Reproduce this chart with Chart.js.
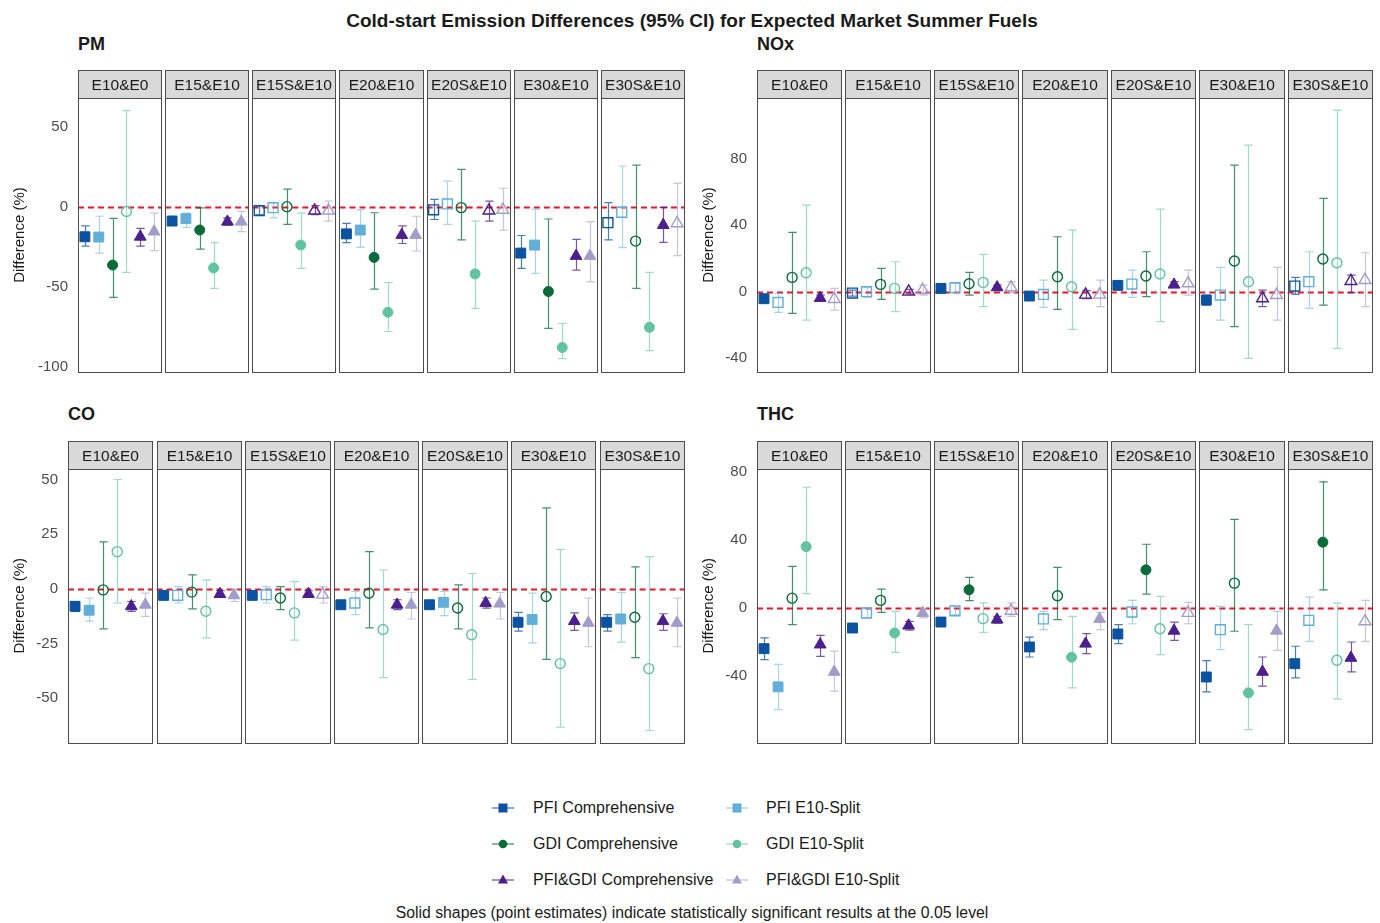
<!DOCTYPE html>
<html>
<head>
<meta charset="utf-8">
<script src="https://cdn.jsdelivr.net/npm/chart.js@4.4.1/dist/chart.umd.min.js"></script>
<style>
html,body{margin:0;padding:0;background:#fff}
body{width:1380px;height:923px;position:relative;overflow:hidden;font-family:"Liberation Sans",Arial,Helvetica,sans-serif;color:#1a1a1a}
canvas.panel{position:absolute}
.main-title{position:absolute;left:0;top:10px;width:1384px;text-align:center;font-weight:bold;font-size:19px;line-height:22px;white-space:nowrap}
.ptitle{position:absolute;font-weight:bold;font-size:18px;line-height:20px}
.legicon{position:absolute;width:24px;height:20px}
.legtext{position:absolute;font-size:16px;line-height:20px;white-space:nowrap}
.note{position:absolute;left:0;width:1384px;text-align:center;font-size:15.8px;top:903px;line-height:20px;white-space:nowrap}
</style>
</head>
<body>
<div class="main-title">Cold-start Emission Differences (95% CI) for Expected Market Summer Fuels</div>
<div class="ptitle" style="left:78px;top:34px">PM</div>
<div class="ptitle" style="left:757px;top:34px">NOx</div>
<div class="ptitle" style="left:68px;top:404px">CO</div>
<div class="ptitle" style="left:757px;top:404px">THC</div>
<canvas id="pm" class="panel" width="690" height="320" style="left:0;top:60px"></canvas>
<canvas id="nox" class="panel" width="690" height="320" style="left:690px;top:60px"></canvas>
<canvas id="co" class="panel" width="690" height="320" style="left:0;top:430px"></canvas>
<canvas id="thc" class="panel" width="690" height="320" style="left:690px;top:430px"></canvas>
<div id="legend"></div>
<div class="note">Solid shapes (point estimates) indicate statistically significant results at the 0.05 level</div>
<script>
// ---------------- DATA ----------------
const facets = ["E10&E0","E15&E10","E15S&E10","E20&E10","E20S&E10","E30&E10","E30S&E10"];
const seriesNames = ["PFI Comprehensive","PFI E10-Split","GDI Comprehensive","GDI E10-Split","PFI&GDI Comprehensive","PFI&GDI E10-Split"];
const yLabel = "Difference (%)";

// rows = facets, columns = series (order of seriesNames)
const pmEst = [
 [-18.8,-19,-36.5,-3,-18.8,-15.6],
 [-9,-7.5,-14.6,-38.3,-9.4,-9.4],
 [-2.5,-0.6,0,-24,-2.5,-2.5],
 [-17,-14.6,-31.7,-66,-17.7,-17.7],
 [-2,1.7,-0.6,-42,-2.5,-2],
 [-29,-24,-53,-88,-30.8,-30.8],
 [-10,-3.5,-21.5,-75.4,-11.5,-10.4]
];
const pmLo = [
 [-24.6,-29,-56.7,-41,-24.6,-27.5],
 [-11.5,-13,-26.5,-51,-11.5,-15.6],
 [-5,-7,-11,-38.5,-5,-9],
 [-22.5,-25.4,-51.5,-78,-23,-27.7],
 [-8,-11,-20.8,-63.5,-9,-14.6],
 [-38.5,-41.7,-76,-95,-39.6,-47],
 [-20.8,-25.6,-51,-90,-22.3,-30.6]
];
const pmHi = [
 [-12,-6,-7.3,60,-13.5,-4],
 [-6,-4,-0.8,-22.5,-7,-3],
 [0.5,2.5,11,-4,0.6,3.5],
 [-10.4,-2,-3.8,-47.5,-12,-6],
 [4.6,16,23.3,-9,3.5,11.5],
 [-18,-1.7,-7.7,-73,-20.4,-9.4],
 [2.5,25.4,26,-41,-0.5,14.6]
];
const pmSig = [
 [1,1,1,0,1,1],
 [1,1,1,1,1,1],
 [0,0,0,1,0,0],
 [1,1,1,1,1,1],
 [0,0,0,1,0,0],
 [1,1,1,1,1,1],
 [0,0,0,1,1,0]
];
const pmTicks = [-100,-50,0,50];

const noxEst = [
 [-4.2,-6.4,8.6,11.4,-3.8,-4.4],
 [-0.8,0,4.4,2,0,1],
 [2,2.4,4.8,5.6,2.6,2.6],
 [-2.6,-1.6,9,3,-1.8,-1.8],
 [3.8,4.6,9.4,10.6,4.2,5],
 [-5,-2,18.4,6,-4,-2],
 [3.4,6,19.6,17.4,6.4,7]
];
const noxLo = [
 [-5.4,-12.4,-13,-17,-5.4,-11],
 [-2.6,-3.4,-4.6,-12,-1.4,-2],
 [1,-0.6,-2,-9,1,-0.6],
 [-4.2,-9.4,-10.6,-22.6,-4.2,-9],
 [2.2,-3.4,-3,-18,2.6,-2],
 [-8,-17,-21,-40,-9,-17],
 [-1.6,-10,-8,-34,-0.5,-9]
];
const noxHi = [
 [-3,-1,35.6,52,-2,2],
 [1,2.6,14,18,1.4,4],
 [3,5,11.6,22.4,4,6],
 [-1,7,33,37,0.6,7],
 [5.4,13,24,49.6,6,13],
 [-2,14.6,76,88,1,14.6],
 [8.6,24,56,109,10,23.4]
];
const noxSig = [
 [1,0,0,0,1,0],
 [0,0,0,0,0,0],
 [1,0,0,0,1,0],
 [1,0,0,0,0,0],
 [1,0,0,0,1,0],
 [1,0,0,0,0,0],
 [0,0,0,0,0,0]
];
const noxTicks = [-40,0,40,80];

const coEst = [
 [-8,-9.8,-0.5,17,-8,-7.3],
 [-3,-3,-1.5,-10.3,-2.4,-3],
 [-3,-2.7,-4.2,-11,-2.4,-2.7],
 [-7.3,-6.5,-2,-18.6,-7.3,-7.3],
 [-7.3,-6.2,-8.8,-21,-6.5,-6.8],
 [-15.3,-14,-3.5,-34.2,-14.8,-15.6],
 [-15.3,-13.8,-13,-36.5,-14.8,-15.6]
];
const coLo = [
 [-10.3,-14.8,-18.3,-6.5,-10.3,-12.6],
 [-4.2,-6.5,-9.2,-22.4,-3.8,-5.8],
 [-4.2,-6.5,-9.5,-23.5,-3.8,-6.5],
 [-9,-11.8,-17.9,-40.6,-9.5,-13.8],
 [-9,-12.3,-18.3,-41.4,-8.8,-13.8],
 [-19.4,-24.7,-32.3,-63.3,-19,-26.5],
 [-19.4,-24.4,-31.5,-64.8,-19,-26.5]
];
const coHi = [
 [-5.8,-4.2,21.5,50,-5.8,-2],
 [-2,1,6.4,4,-0.8,-0.2],
 [-2,1,1,3.3,-0.8,1],
 [-5.5,-1.2,17,8.6,-5,-1.7],
 [-5.5,-1.2,1.8,7,-4.2,-1.7],
 [-10.8,-2,37,18,-11,-4.2],
 [-11.8,-1.7,10,14.7,-11.4,-4.2]
];
const coSig = [
 [1,1,0,0,1,1],
 [1,0,0,0,1,1],
 [1,0,0,0,1,0],
 [1,0,0,0,1,1],
 [1,1,0,0,1,1],
 [1,1,0,0,1,1],
 [1,1,0,0,1,1]
];
const coTicks = [-50,-25,0,25,50];

const thcEst = [
 [-23.8,-46.2,5.8,36,-21.4,-37.4],
 [-11.7,-2.9,4.5,-14.6,-10.3,-2.9],
 [-8.2,-1.6,10.7,-6.2,-6.8,-1.6],
 [-22.8,-6.4,7.2,-28.8,-20.9,-6.4],
 [-15.2,-2.3,22.4,-12.1,-13.3,-2.9],
 [-40.4,-12.7,14.6,-49.7,-37.4,-13.3],
 [-32.6,-7.2,38.6,-30.6,-29.2,-7.8]
];
const thcLo = [
 [-30.2,-59.5,-9.7,8.4,-28.3,-48.7],
 [-13.6,-5.8,-2.5,-26,-13,-5.8],
 [-10.1,-3.9,4.3,-14.2,-8.8,-4.9],
 [-28.7,-12.7,-6.8,-46.8,-26.7,-12.7],
 [-20.9,-9.2,8.2,-27.3,-18.9,-9.2],
 [-49.1,-24.4,-13.6,-71.2,-45.8,-24.8],
 [-40.9,-19.5,10.7,-53.2,-37.4,-19.5]
];
const thcHi = [
 [-17.5,-33,24.4,70.8,-16,-25.3],
 [-9.4,-0.4,11.1,-2,-7.8,-0.4],
 [-6.2,1,18,3,-4.9,3],
 [-17,-2,23.8,-4.9,-15,-2.5],
 [-9.7,4.5,37.4,6.8,-8.2,3.3],
 [-30.8,1,52,-9.7,-28.7,-2],
 [-22.4,6.4,74,2.9,-19.9,4.5]
];
const thcSig = [
 [1,1,0,1,1,1],
 [1,0,0,1,1,1],
 [1,0,1,0,1,0],
 [1,0,0,1,1,1],
 [1,0,1,0,1,0],
 [1,0,0,1,1,1],
 [1,0,1,0,1,0]
];
const thcTicks = [-40,0,40,80];

// ---------------- STYLE ----------------
const FONT = '"Liberation Sans", Arial, Helvetica, sans-serif';
const FW = 6, GAP = 0.3;            // facet width / gap in x units
const XMAX = facets.length * FW + (facets.length - 1) * GAP;
const STYLE = [
  {shape:'rect',     r:7,   color:'#0b52a0', err:'rgba(11,82,160,0.75)'},
  {shape:'rect',     r:7,   color:'#62aed8', err:'rgba(98,174,216,0.55)'},
  {shape:'circle',   r:5,   color:'#0a6b3a', err:'rgba(10,107,58,0.75)'},
  {shape:'circle',   r:5,   color:'#62c3a2', err:'rgba(98,195,162,0.6)'},
  {shape:'triangle', r:6.8, color:'#4b1f8c', err:'rgba(75,31,140,0.75)'},
  {shape:'triangle', r:6.8, color:'#a19dc8', err:'rgba(161,157,200,0.6)'}
];

const facetPlugin = {
  id: 'facetPlugin',
  beforeDatasetsDraw(chart) {
    const {ctx, chartArea: a, scales: {x, y}} = chart;
    ctx.save();
    // zero reference line, per facet
    ctx.strokeStyle = '#f0142a';
    ctx.lineWidth = 2;
    ctx.setLineDash([6, 4]);
    const y0 = Math.round(y.getPixelForValue(0)) + 0.5;
    facets.forEach((f, i) => {
      const x0 = x.getPixelForValue(i * (FW + GAP));
      const x1 = x.getPixelForValue(i * (FW + GAP) + FW);
      ctx.beginPath(); ctx.moveTo(x0, y0); ctx.lineTo(x1, y0); ctx.stroke();
    });
    ctx.setLineDash([]);
    // error bars
    chart.data.datasets.forEach(ds => {
      ctx.strokeStyle = ds.errColor;
      ctx.lineWidth = 1.2;
      ds.data.forEach(p => {
        const px = Math.round(x.getPixelForValue(p.x)) + 0.5;
        const pl = y.getPixelForValue(p.lo), ph = y.getPixelForValue(p.hi);
        const cw = (x.getPixelForValue(p.x + 0.3) - x.getPixelForValue(p.x));
        ctx.beginPath();
        ctx.moveTo(px, pl); ctx.lineTo(px, ph);
        ctx.moveTo(px - cw, pl); ctx.lineTo(px + cw, pl);
        ctx.moveTo(px - cw, ph); ctx.lineTo(px + cw, ph);
        ctx.stroke();
      });
    });
    ctx.restore();
  },
  afterDraw(chart) {
    const {ctx, chartArea: a, scales: {x}} = chart;
    ctx.save();
    ctx.lineWidth = 1;
    facets.forEach((f, i) => {
      const x0 = Math.round(x.getPixelForValue(i * (FW + GAP))) + 0.5;
      const x1 = Math.round(x.getPixelForValue(i * (FW + GAP) + FW)) + 0.5;
      const top = Math.round(a.top) + 0.5, bot = Math.round(a.bottom) + 0.5;
      ctx.strokeStyle = '#4d4d4d';
      ctx.strokeRect(x0, top, x1 - x0, bot - top);
      ctx.fillStyle = '#d9d9d9';
      ctx.fillRect(x0, top - 28, x1 - x0, 28);
      ctx.strokeRect(x0, top - 28, x1 - x0, 28);
      ctx.fillStyle = '#1a1a1a';
      ctx.font = '15.5px ' + FONT;
      ctx.textAlign = 'center';
      ctx.textBaseline = 'middle';
      ctx.fillText(f, (x0 + x1) / 2, top - 13);
    });
    ctx.restore();
  }
};

function makePanel(id, est, lo, hi, sig, ticks, g) {
  const datasets = seriesNames.map((name, s) => ({
    label: name,
    data: facets.map((f, i) => ({
      x: i * (FW + GAP) + 0.5 + s,
      y: est[i][s], lo: lo[i][s], hi: hi[i][s], sig: sig[i][s]
    })),
    showLine: false,
    pointStyle: STYLE[s].shape,
    pointRadius: STYLE[s].r,
    pointBorderColor: STYLE[s].color,
    pointBackgroundColor: c => (c.raw && c.raw.sig) ? STYLE[s].color : 'rgba(255,255,255,0)',
    pointBorderWidth: c => (c.raw && c.raw.sig) ? 1 : 1.4,
    errColor: STYLE[s].err
  }));
  return new Chart(document.getElementById(id), {
    type: 'scatter',
    data: { datasets },
    plugins: [facetPlugin],
    options: {
      responsive: false,
      animation: false,
      events: [],
      devicePixelRatio: 1,
      layout: { autoPadding: false, padding: { left: 0, right: g.padR, top: g.padT, bottom: g.padB } },
      plugins: { legend: { display: false }, tooltip: { enabled: false } },
      scales: {
        x: { type: 'linear', min: 0, max: XMAX, display: false },
        y: {
          type: 'linear', min: g.yMin, max: g.yMax,
          afterFit(s) { s.width = g.yW; },
          afterBuildTicks(s) { s.ticks = ticks.map(v => ({ value: v })); },
          grid: { display: false, drawTicks: true, tickLength: 10 },
          border: { display: false },
          ticks: { padding: 0, color: '#4d4d4d', font: { size: 15, family: FONT, lineHeight: 1 } },
          title: { display: true, text: yLabel, color: '#1a1a1a',
                   font: { size: 15, family: FONT }, padding: { top: g.tPad, bottom: 0 } }
        }
      }
    }
  });
}

Chart.defaults.font.family = FONT;
makePanel('pm',  pmEst,  pmLo,  pmHi,  pmSig,  pmTicks,  {yMin:-103.3, yMax:67.9,  yW:78, padR:6, padT:38, padB:8, tPad:11});
makePanel('nox', noxEst, noxLo, noxHi, noxSig, noxTicks, {yMin:-48.2,  yMax:116.3, yW:67, padR:8, padT:38, padB:8, tPad:10});
makePanel('co',  coEst,  coLo,  coHi,  coSig,  coTicks,  {yMin:-70.3,  yMax:54.8,  yW:68, padR:6, padT:39, padB:7, tPad:11});
makePanel('thc', thcEst, thcLo, thcHi, thcSig, thcTicks, {yMin:-78.8,  yMax:81.5,  yW:67, padR:8, padT:39, padB:7, tPad:10});

// ---------------- LEGEND (HTML) ----------------
(function () {
  const leg = document.getElementById('legend');
  const cols = [{icon: 503, text: 533}, {icon: 737, text: 766}];
  const rows = [808, 844, 880];
  const order = [[0, 1], [2, 3], [4, 5]];
  order.forEach((pair, r) => pair.forEach((s, c) => {
    const st = STYLE[s];
    let mk;
    if (st.shape === 'rect') mk = `<rect x="7.5" y="5.5" width="9" height="9" fill="${st.color}"/>`;
    else if (st.shape === 'circle') mk = `<circle cx="12" cy="10" r="4.3" fill="${st.color}"/>`;
    else mk = `<polygon points="12,4.5 17,13.5 7,13.5" fill="${st.color}"/>`;
    const d = document.createElement('div');
    d.className = 'legicon';
    d.style.left = (cols[c].icon - 12) + 'px';
    d.style.top = (rows[r] - 10) + 'px';
    d.innerHTML = `<svg width="24" height="20"><line x1="1" y1="10" x2="23" y2="10" stroke="${st.err}" stroke-width="1.3"/>${mk}</svg>`;
    leg.appendChild(d);
    const t = document.createElement('div');
    t.className = 'legtext';
    t.style.left = cols[c].text + 'px';
    t.style.top = (rows[r] - 10) + 'px';
    t.textContent = seriesNames[s];
    leg.appendChild(t);
  }));
})();
</script>
</body>
</html>
